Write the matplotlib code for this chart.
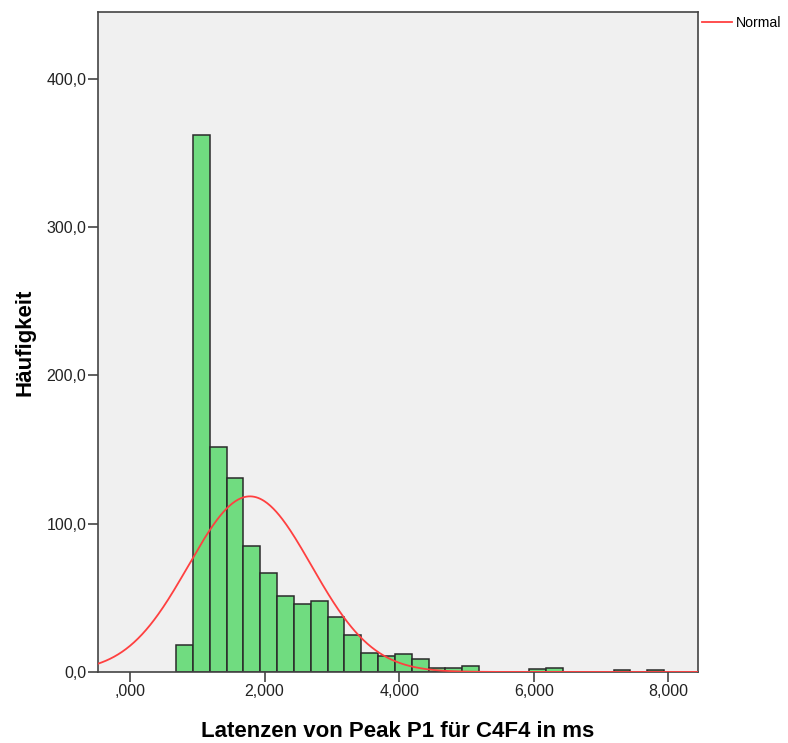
"""SPSS-style histogram of P1 peak latencies with a fitted normal curve."""

import matplotlib

matplotlib.use("Agg")
import matplotlib.pyplot as plt
import numpy as np
from matplotlib.lines import Line2D
from matplotlib.ticker import FuncFormatter

# bin layout (ms) and counts
bin_start = 686
bin_width = 250
counts = [18, 362, 152, 131, 85, 67, 51, 46, 48, 37, 25, 13, 11, 12, 9, 3, 3, 4,
          0, 0, 0, 2, 3, 0, 0, 0, 1, 0, 1]

# normal curve parameters (estimated from the overlay)
normal_mean = 1782
normal_sd = 913

x_ticks = [0, 2000, 4000, 6000, 8000]
y_ticks = [0, 100, 200, 300, 400]

plt.rcParams["font.family"] = ["Liberation Sans", "DejaVu Sans"]

fig = plt.figure(figsize=(7.88, 7.43), dpi=100)
ax = fig.add_axes([0.1244, 0.0956, 0.7614, 0.8882])
ax.set_facecolor("#f0f0f0")

edges = bin_start + bin_width * np.arange(len(counts))
ax.bar(edges, counts, width=bin_width, align="edge", color="#70dc80",
       edgecolor="#2a2a2a", linewidth=1.1, zorder=2)

n_total = sum(counts)
xs = np.linspace(-475, 8440, 600)
ys = n_total * bin_width / (normal_sd * np.sqrt(2 * np.pi)) * \
    np.exp(-0.5 * ((xs - normal_mean) / normal_sd) ** 2)
ax.plot(xs, ys, color="#ff4040", linewidth=1.3, zorder=3)

ax.set_xlim(-475, 8440)
ax.set_ylim(0, 445)
ax.set_xticks(x_ticks)
ax.set_yticks(y_ticks)
ax.xaxis.set_major_formatter(FuncFormatter(
    lambda v, p: ",000" if v == 0 else f"{v / 1000:.3f}".replace(".", ",")))
ax.yaxis.set_major_formatter(FuncFormatter(
    lambda v, p: f"{v:.1f}".replace(".", ",")))
ax.tick_params(axis="both", direction="out", length=7, width=1.2,
               color="#444444", labelsize=11.5, labelcolor="#222222", pad=1.5)

for side in ["top", "right", "bottom", "left"]:
    ax.spines[side].set_color("#444444")
    ax.spines[side].set_linewidth(1.2)

ax.set_xlabel("Latenzen von Peak P1 für C4F4 in ms", fontsize=16,
              fontweight="bold", labelpad=16)
ax.set_ylabel("Häufigkeit", fontsize=16, fontweight="bold", labelpad=8)

handle = Line2D([], [], color="#ff4040", linewidth=1.3)
fig.legend([handle], ["Normal"], loc="center left",
           bbox_to_anchor=(0.891, 0.969), frameon=False, fontsize=10.2,
           handlelength=2.1, handletextpad=0.25, borderpad=0,
           borderaxespad=0)

fig.savefig("out.png", dpi=100)
